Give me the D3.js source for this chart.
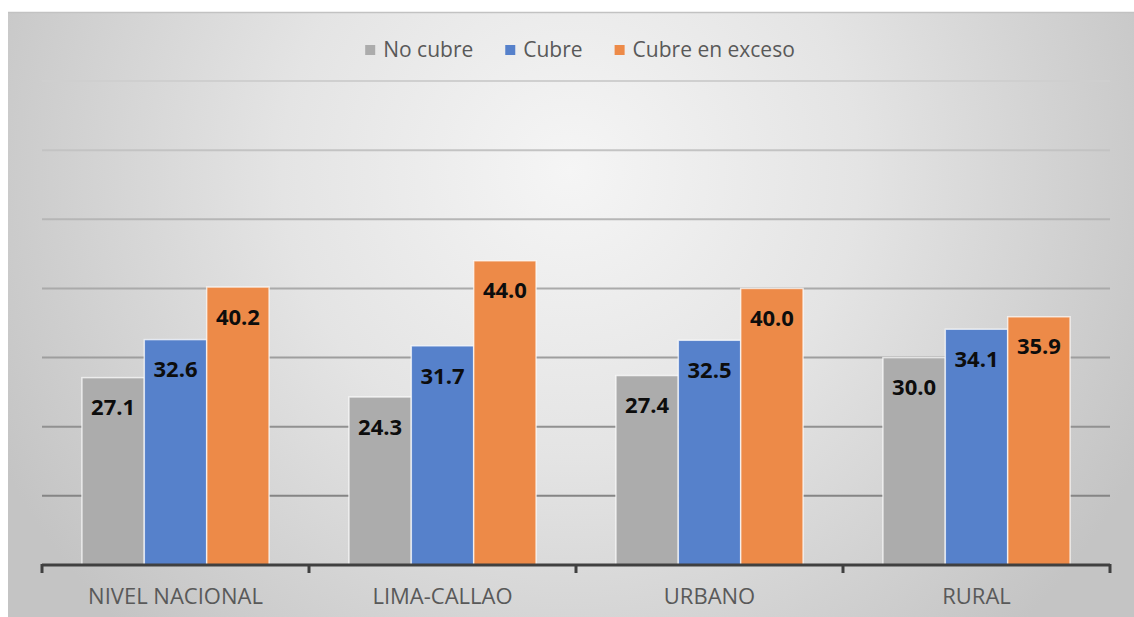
<!DOCTYPE html>
<html>
<head>
<meta charset="utf-8">
<script src="https://cdn.jsdelivr.net/npm/d3@7"></script>
<style>
  body { margin: 0; background: #fff; }
  svg { display: block; font-family: "Open Sans", sans-serif; }
</style>
</head>
<body>
<div id="chart"></div>
<script>
// Data
var categories = ['NIVEL NACIONAL', 'LIMA-CALLAO', 'URBANO', 'RURAL'];
var series = ['No cubre', 'Cubre', 'Cubre en exceso'];
var noCubre = [27.1, 24.3, 27.4, 30.0];
var cubre = [32.6, 31.7, 32.5, 34.1];
var cubreExceso = [40.2, 44.0, 40.0, 35.9];
var yTicks = [0, 10, 20, 30, 40, 50, 60, 70];

var colors = ['#acacac', '#5681cb', '#ed8a48'];
var values = [noCubre, cubre, cubreExceso];

var width = 1134, height = 617;
var margin = {top: 81, bottom: 52, left: 42, right: 24};

var svg = d3.select('#chart').append('svg')
    .attr('width', width)
    .attr('height', height);

// background gradient
var defs = svg.append('defs');
var grad = defs.append('radialGradient')
    .attr('id', 'bg')
    .attr('gradientUnits', 'userSpaceOnUse')
    .attr('cx', 570).attr('cy', 170).attr('r', 640);
grad.append('stop').attr('offset', '0').attr('stop-color', '#f5f5f5');
grad.append('stop').attr('offset', '0.45').attr('stop-color', '#e4e4e4');
grad.append('stop').attr('offset', '1').attr('stop-color', '#c4c4c4');

svg.append('rect')
    .attr('x', 8).attr('y', 12)
    .attr('width', width - 8).attr('height', height - 12)
    .attr('fill', 'url(#bg)');
svg.append('line')
    .attr('x1', 8).attr('x2', width).attr('y1', 12.5).attr('y2', 12.5)
    .attr('stroke', '#c2c2c2').attr('stroke-width', 1.5);

// Scales setup
var x0 = d3.scaleBand().domain(categories).range([margin.left, width - margin.right]);
var x1 = d3.scaleBand().domain(series).range([0, x0.bandwidth()]).paddingOuter(0.64);
var y = d3.scaleLinear().domain([0, 70]).range([height - margin.bottom, margin.top]);

// gridlines, darker towards the bottom
var gridColor = d3.scaleLinear().domain([70, 10]).range(['#cfcfcf', '#858585']);
svg.append('g').selectAll('line')
    .data(yTicks.filter((d) => d > 0))
    .enter().append('line')
    .attr('x1', margin.left).attr('x2', width - margin.right)
    .attr('y1', (d) => y(d)).attr('y2', (d) => y(d))
    .attr('stroke', (d) => gridColor(d))
    .attr('stroke-width', 2);

// bars
var groups = svg.append('g').selectAll('g')
    .data(categories)
    .enter().append('g')
    .attr('transform', (d) => `translate(${x0(d)},0)`);

groups.selectAll('rect')
    .data((c, i) => series.map((s, j) => ({s: s, v: values[j][i], j: j})))
    .enter().append('rect')
    .attr('x', (d) => x1(d.s))
    .attr('width', x1.bandwidth())
    .attr('y', (d) => y(d.v))
    .attr('height', (d) => y(0) - y(d.v))
    .attr('fill', (d) => colors[d.j])
    .attr('stroke', '#ffffff')
    .attr('stroke-opacity', 0.7)
    .attr('stroke-width', 1.5);

// data labels, inside end
groups.selectAll('text')
    .data((c, i) => series.map((s, j) => ({s: s, v: values[j][i], j: j})))
    .enter().append('text')
    .attr('x', (d) => x1(d.s) + x1.bandwidth() / 2)
    .attr('y', (d) => y(d.v) + 30)
    .attr('dy', '0.35em')
    .attr('text-anchor', 'middle')
    .attr('font-size', 22)
    .attr('font-weight', 'bold')
    .attr('fill', '#0d0d0d')
    .text((d) => d.v.toFixed(1));

// x axis
var xAxis = d3.axisBottom(x0).tickSize(0).tickPadding(23);
var gx = svg.append('g')
    .attr('transform', `translate(0,${y(0)})`)
    .call(xAxis);
gx.select('.domain').remove();
gx.selectAll('text')
    .attr('font-size', 22)
    .attr('font-family', '"Open Sans", sans-serif')
    .attr('fill', '#595959');

var edges = categories.map((c) => x0(c)).concat([x0.range()[1]]);
svg.append('line')
    .attr('x1', margin.left).attr('x2', width - margin.right)
    .attr('y1', y(0)).attr('y2', y(0))
    .attr('stroke', '#404040').attr('stroke-width', 3);
svg.append('g').selectAll('line')
    .data(edges)
    .enter().append('line')
    .attr('x1', (d) => d).attr('x2', (d) => d)
    .attr('y1', y(0) - 1).attr('y2', y(0) + 8)
    .attr('stroke', '#404040').attr('stroke-width', 3);

// legend, centred at the top
var legend = svg.append('g');
var lx = 0;
series.forEach(function (s, i) {
    var item = legend.append('g').attr('transform', `translate(${lx},0)`);
    item.append('rect')
        .attr('x', 0).attr('y', -5)
        .attr('width', 10).attr('height', 10)
        .attr('fill', colors[i]);
    var t = item.append('text')
        .attr('x', 18).attr('y', 0).attr('dy', '0.35em')
        .attr('font-size', 21)
        .attr('fill', '#595959')
        .text(s);
    lx += 18 + t.node().getComputedTextLength() + 32;
});
var lw = lx - 32;
legend.attr('transform', `translate(${580 - lw / 2},50)`);
</script>
</body>
</html>
